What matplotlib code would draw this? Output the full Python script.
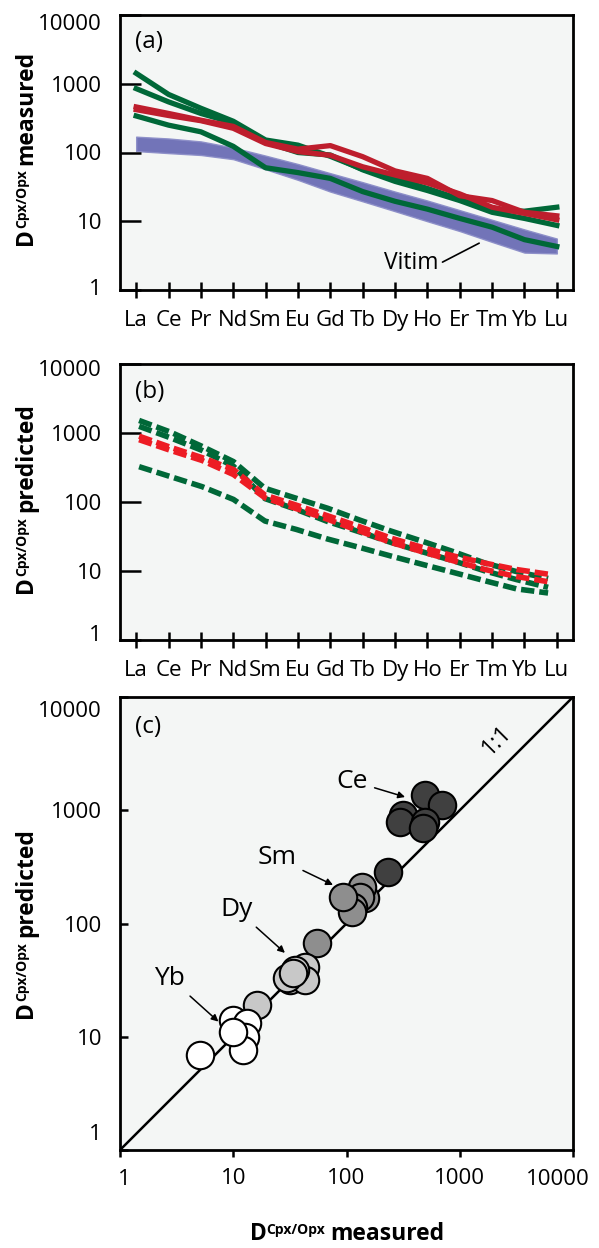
import numpy as np
import matplotlib
matplotlib.use('Agg')
import matplotlib.pyplot as plt
from matplotlib.ticker import NullLocator
from matplotlib.transforms import ScaledTranslation

plt.rcParams['font.family'] = ['Open Sans', 'DejaVu Sans']

# ---- data ----
elements = ['La', 'Ce', 'Pr', 'Nd', 'Sm', 'Eu', 'Gd', 'Tb', 'Dy', 'Ho', 'Er', 'Tm', 'Yb', 'Lu']

# (a) measured D Cpx/Opx
meas_green = [
    [1420, 700, 440, 285, 152, 128, 88, 57, 42, 30, 21, 14.5, 14, 16],
    [850, 545, 370, 270, 142, 100, 92, 56, 38, 28, 20, 13.5, 11, 8.7],
    [340, 250, 200, 123, 60, 51, 42, 27, 19.5, 15, 11, 8.2, 5.4, 4.3],
]
meas_red = [
    [460, 370, 295, 240, 140, 112, 126, 87, 54, 42, 23.5, 20, 13.5, 12],
    [420, 345, 290, 225, 135, 103, 91, 62, 47, 36, 25, 16, 13, 10.5],
]
vitim_high = [170, 160, 145, 118, 90, 68, 50, 37, 27, 20, 14.5, 10.5, 7.6, 5.6]
vitim_low = [105, 98, 92, 80, 57, 40, 27, 19.5, 14, 10, 7.2, 5.0, 3.5, 3.4]

# (b) predicted D Cpx/Opx
pred_green = [
    [1520, 1030, 640, 385, 158, 113, 81, 55, 38, 27, 19, 13, 9.8, 7.8],
    [1250, 850, 560, 330, 112, 78, 52, 37, 26, 19, 14, 10, 7.5, 5.8],
    [325, 233, 167, 109, 53, 40, 29, 22, 16.5, 12.5, 9.5, 7.2, 5.5, 4.8],
]
pred_red = [
    [900, 620, 440, 296, 126, 90, 63, 44, 30, 22, 16.5, 13, 10.5, 9],
    [800, 560, 400, 250, 115, 80, 56, 38, 26, 19, 14, 10.5, 8.3, 7],
]

# (c) predicted vs measured
ce_meas = [493, 692, 313, 295, 493, 471, 234]
ce_pred = [1364, 1113, 908, 792, 792, 692, 287]
sm_meas = [146, 136, 132, 115, 111, 54.6, 93.7]
sm_pred = [167, 211, 172.5, 141, 127, 66.8, 172.5]
dy_meas = [43, 31.7, 43, 29.6, 35.1, 16.1, 33.9]
dy_pred = [41.6, 31.7, 31.7, 32.8, 38.8, 19.1, 36.3]
yb_meas = [10, 13.1, 12.7, 12.3, 5.1, 10]
yb_pred = [14.1, 13.2, 10, 7.6, 6.9, 11.1]

decades = [1, 10, 100, 1000, 10000]

# ---- style ----
BG = '#f4f6f5'
GREEN = '#006838'
RED_A = '#be1e2d'
RED_B = '#ed1c24'
PURPLE = '#6b6db5'
TICK_FS = 16

W, H = 599, 1248
fig = plt.figure(figsize=(W / 100, H / 100), dpi=100)


def box(top, bottom, left=120, right=573):
    return [left / W, 1 - bottom / H, (right - left) / W, (bottom - top) / H]


ax_a = fig.add_axes(box(15, 290))
ax_b = fig.add_axes(box(364, 640))
ax_c = fig.add_axes(box(697, 1150))


def end_labels(ax, top_shift, bottom_shift, which='y', right_shift=0, left_shift=0):
    # end labels sit slightly inside the frame in the original
    if which == 'y':
        ax.set_yticklabels(['', '10', '100', '1000', ''])
        tr = ax.get_yaxis_transform()
        ax.text(0, 10000, '10000', ha='right', va='center_baseline', fontsize=TICK_FS,
                transform=tr + ScaledTranslation(-0.18, -top_shift / 100, fig.dpi_scale_trans))
        ax.text(0, 1, '1', ha='right', va='center_baseline', fontsize=TICK_FS,
                transform=tr + ScaledTranslation(-0.18, bottom_shift / 100, fig.dpi_scale_trans))
    else:
        ax.set_xticklabels(['', '10', '100', '1000', ''])
        tr = ax.get_xaxis_transform()
        ax.text(1, 0, '1', ha='center', va='top', fontsize=TICK_FS,
                transform=tr + ScaledTranslation(left_shift / 100, -0.19, fig.dpi_scale_trans))
        ax.text(10000, 0, '10000', ha='center', va='top', fontsize=TICK_FS,
                transform=tr + ScaledTranslation(-right_shift / 100, -0.19, fig.dpi_scale_trans))


def ree_axes(ax, top_shift, bottom_shift):
    ax.set_facecolor(BG)
    ax.set_yscale('log')
    ax.set_ylim(1, 10000)
    ax.set_xlim(-0.5, 13.5)
    ax.set_yticks(decades)
    ax.yaxis.set_minor_locator(NullLocator())
    ax.set_xticks(np.arange(len(elements)))
    ax.set_xticklabels(elements)
    ax.tick_params(axis='y', direction='in', length=15, width=1.8, pad=13, labelsize=TICK_FS)
    ax.tick_params(axis='x', direction='inout', length=11.5, width=1.8, pad=9, labelsize=TICK_FS)
    for s in ax.spines.values():
        s.set_linewidth(2)
    end_labels(ax, top_shift, bottom_shift)


# ---- (a) ----
xi = np.arange(len(elements))
ax_a.fill_between(xi, vitim_low, vitim_high, facecolor=PURPLE, edgecolor='#8c8ec8',
                  lw=1, alpha=0.95, zorder=1)
for v in meas_green:
    ax_a.plot(xi, v, color=GREEN, lw=3.8, zorder=2)
for v in meas_red:
    ax_a.plot(xi, v, color=RED_A, lw=3.8, zorder=3)
ax_a.annotate('Vitim', xy=(10.6, 4.8), xytext=(8.5, 2.47), fontsize=16.5,
              ha='center', va='center',
              arrowprops=dict(arrowstyle='-', lw=1.2, color='k', relpos=(1.0, 0.45),
                              shrinkA=1, shrinkB=0))
ree_axes(ax_a, 7, 3)
ax_a.text(0.033, 0.9, '(a)', transform=ax_a.transAxes, fontsize=17.5, va='center')

# ---- (b) ----
xb = 0.09 + xi * (12.64 / 13)
dash = (0, (2.4, 0.9))
for v in pred_green:
    ax_b.plot(xb, v, color=GREEN, lw=4, ls=dash, zorder=2)
for v in pred_red:
    ax_b.plot(xb, v, color=RED_B, lw=4, ls=dash, zorder=3)
ree_axes(ax_b, 4, 7)
ax_b.text(0.033, 0.9, '(b)', transform=ax_b.transAxes, fontsize=17.5, va='center')

# ---- (c) ----
ax_c.set_facecolor(BG)
ax_c.set_xscale('log')
ax_c.set_yscale('log')
ax_c.set_xlim(1, 10000)
ax_c.set_ylim(1, 10000)
ax_c.plot([1, 10000], [1, 10000], color='k', lw=1.8, zorder=2)
pt = dict(s=390, edgecolors='k', linewidths=1.5, zorder=3)
ax_c.scatter(ce_meas, ce_pred, c='#404040', **pt)
ax_c.scatter(sm_meas, sm_pred, c='#8e8e8e', **pt)
ax_c.scatter(dy_meas, dy_pred, c='#c8c8c8', **pt)
ax_c.scatter(yb_meas, yb_pred, c='white', **pt)

arrow = dict(arrowstyle='-|>', lw=1.1, color='k', mutation_scale=10, shrinkA=3, shrinkB=0)
for lab, txy, tip in [('Ce', (112, 1812), (329, 1309)),
                      ('Sm', (24.3, 379), (76, 219)),
                      ('Dy', (10.6, 134), (28.6, 55)),
                      ('Yb', (2.76, 33), (7.4, 13.6))]:
    ax_c.annotate(lab, xy=tip, xytext=txy, fontsize=19, ha='center', va='center',
                  arrowprops=arrow, zorder=4)
ax_c.text(2133, 4170, '1:1', rotation=45, fontsize=16.5, ha='center', va='center',
          rotation_mode='anchor')

ax_c.set_xticks(decades)
ax_c.set_yticks(decades)
ax_c.xaxis.set_minor_locator(NullLocator())
ax_c.yaxis.set_minor_locator(NullLocator())
ax_c.tick_params(axis='x', direction='out', length=5, width=1.8, pad=8, labelsize=TICK_FS)
ax_c.tick_params(axis='y', direction='in', length=6, width=1.8, pad=13, labelsize=TICK_FS)
for s in ax_c.spines.values():
    s.set_linewidth(2)
end_labels(ax_c, 12, 18)
end_labels(ax_c, 0, 0, which='x', right_shift=15, left_shift=4)
ax_c.text(0.033, 0.934, '(c)', transform=ax_c.transAxes, fontsize=17.5, va='center')


# ---- axis titles: bold D with small superscript ----
def compound_label(cx, cy, word, vertical):
    parts = [('D', 16.5, 0), ('Cpx/Opx', 10, 6), (word, 16.5, 0)]
    gaps = [0, 5, 0]
    r = fig.canvas.get_renderer()
    widths = []
    for s, fs, _ in parts:
        t = fig.text(0, 0, s, fontsize=fs, fontweight='bold')
        widths.append(t.get_window_extent(r).width)
        t.remove()
    total = sum(widths) + sum(gaps)
    pos = -total / 2
    for (s, fs, rise), w, g in zip(parts, widths, gaps):
        if vertical:
            px, py = cx - rise, cy - pos
            fig.text(px / W, 1 - py / H, s, fontsize=fs, fontweight='bold', rotation=90,
                     rotation_mode='anchor', ha='left', va='baseline')
        else:
            px, py = cx + pos, cy - rise
            fig.text(px / W, 1 - py / H, s, fontsize=fs, fontweight='bold',
                     ha='left', va='baseline')
        pos += w + g


compound_label(32, 148, 'measured', True)
compound_label(32, 498, 'predicted', True)
compound_label(32, 923, 'predicted', True)
compound_label(347, 1240, 'measured', False)

fig.savefig('out.png', dpi=100, facecolor='white')
